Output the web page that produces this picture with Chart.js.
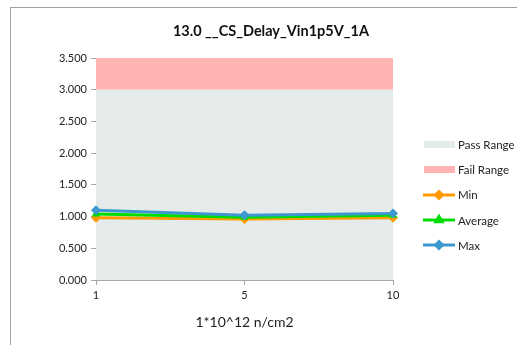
<!DOCTYPE html>
<html>
<head>
<meta charset="utf-8">
<script src="https://cdn.jsdelivr.net/npm/chart.js@4"></script>
<style>
  html, body { margin: 0; padding: 0; background: #fff; }
  body { width: 517px; height: 345px; position: relative; overflow: hidden; font-family: Lato, "Open Sans", sans-serif; }
  #frame { position: absolute; left: 10px; top: 7px; width: 520px; height: 350px; border: 1px solid #a0a0a0; box-sizing: border-box; }
  #wrap { position: absolute; left: 0; top: 0; width: 517px; height: 345px; }
  #title { position: absolute; left: 0; width: 542px; top: 22px; text-align: center; font-size: 14.5px; font-weight: bold; color: #111; }
  #legend { position: absolute; left: 423px; top: 132px; font-size: 11.5px; color: #222; }
  .item { display: flex; align-items: center; height: 25.2px; }
  .item span.txt { margin-left: 3px; }
  .sym { width: 32px; height: 16px; }
</style>
</head>
<body>
<div id="frame"></div>
<div id="wrap"><canvas id="chart" width="517" height="345"></canvas></div>
<div id="title">13.0 __CS_Delay_Vin1p5V_1A</div>
<div id="legend"></div>
<script>
// data
const categories = ['1', '5', '10'];
const passTop = [3.0, 3.0, 3.0];
const failTop = [3.5, 3.5, 3.5];
const minVals = [0.98, 0.96, 0.98];
const avgVals = [1.04, 0.99, 1.02];
const maxVals = [1.10, 1.02, 1.05];

const PASS_COLOR = '#e5ebeb';
const FAIL_COLOR = '#ffb3b3';
const MIN_COLOR = '#ff9a00';
const AVG_COLOR = '#00dd00';
const MAX_COLOR = '#3d98cf';
const AXIS_COLOR = '#a6a6a6';

function lineSet(label, data, color, pointStyle, order) {
    return {
        label, data, order,
        borderColor: color,
        backgroundColor: color,
        borderWidth: 3,
        pointStyle,
        pointRadius: pointStyle === 'triangle' ? 4 : 4.5,
        pointBorderWidth: 1,
        fill: false,
        tension: 0
    };
}

const chart = new Chart(document.getElementById('chart'), {
    type: 'line',
    data: {
        labels: categories,
        datasets: [
            { label: 'Pass Range', data: passTop, fill: 'origin', backgroundColor: PASS_COLOR, borderWidth: 0, pointRadius: 0, order: 10, legendType: 'box' },
            { label: 'Fail Range', data: failTop, fill: '-1', backgroundColor: FAIL_COLOR, borderWidth: 0, pointRadius: 0, order: 11, legendType: 'box' },
            lineSet('Min', minVals, MIN_COLOR, 'rectRot', 3),
            lineSet('Average', avgVals, AVG_COLOR, 'triangle', 2),
            lineSet('Max', maxVals, MAX_COLOR, 'rectRot', 1)
        ]
    },
    options: {
        responsive: false,
        animation: false,
        layout: { padding: { left: 11, right: 124, top: 58, bottom: 14 } },
        plugins: {
            legend: { display: false },
            tooltip: { enabled: false },
            title: { display: false }
        },
        scales: {
            x: {
                type: 'category',
                offset: false,
                grid: { drawOnChartArea: false, drawTicks: true, tickLength: 5, color: AXIS_COLOR },
                border: { color: AXIS_COLOR, width: 1 },
                ticks: { color: '#222', font: { family: 'Lato', size: 11 }, padding: 4, maxRotation: 0 },
                title: { display: true, text: '1*10^12 n/cm2', color: '#222', font: { family: 'Lato', size: 14 }, padding: { top: 6, bottom: 0 } },
                afterFit: s => { s.height = 51; }
            },
            y: {
                min: 0, max: 3.5,
                grid: { drawOnChartArea: false, drawTicks: true, tickLength: 5, color: AXIS_COLOR },
                border: { color: AXIS_COLOR, width: 1 },
                ticks: { stepSize: 0.5, color: '#222', font: { family: 'Lato', size: 11 }, padding: 4, callback: v => v.toFixed(3) },
                afterFit: s => { s.width = 85; }
            }
        }
    }
});

// legend built from the datasets
const legend = document.getElementById('legend');
chart.data.datasets.forEach(ds => {
    const item = document.createElement('div');
    item.className = 'item';
    const sym = document.createElement('canvas');
    sym.width = 32; sym.height = 16; sym.className = 'sym';
    const c = sym.getContext('2d');
    if (ds.legendType === 'box') {
        c.fillStyle = ds.backgroundColor;
        c.fillRect(1, 4, 31, 7);
    } else {
        c.strokeStyle = ds.borderColor;
        c.lineWidth = 3;
        c.beginPath(); c.moveTo(0, 8); c.lineTo(32, 8); c.stroke();
        Chart.helpers.drawPoint(c, { pointStyle: ds.pointStyle, radius: 3.5, borderWidth: 1 }, 16, 8);
        c.fillStyle = ds.backgroundColor;
        c.fill();
    }
    item.appendChild(sym);
    const t = document.createElement('span');
    t.className = 'txt';
    t.textContent = ds.label;
    item.appendChild(t);
    legend.appendChild(item);
});
</script>
</body>
</html>
